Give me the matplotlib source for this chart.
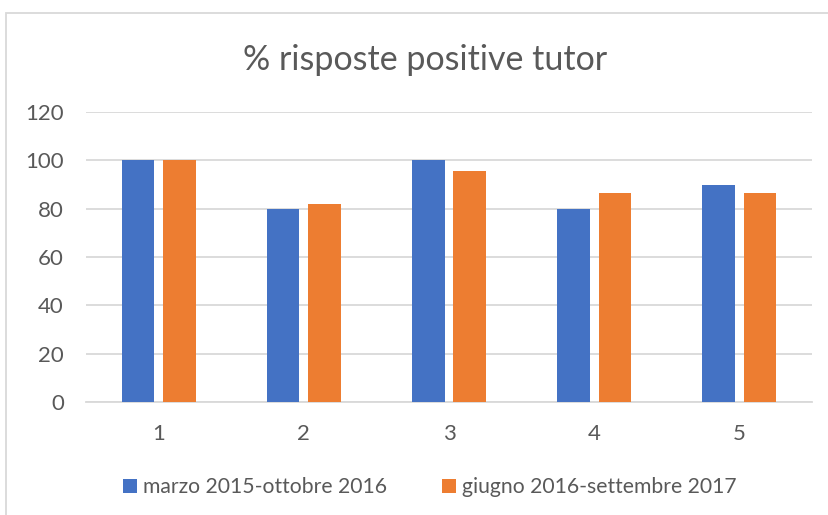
import numpy as np
import matplotlib
matplotlib.use("Agg")
import matplotlib.pyplot as plt
from matplotlib.patches import Rectangle

# data
categories = ["1", "2", "3", "4", "5"]
marzo_2015 = [100, 80, 100, 80, 90]
giugno_2016 = [100, 81.8, 95.5, 86.4, 86.4]
series_names = ["marzo 2015-ottobre 2016", "giugno 2016-settembre 2017"]
yticks = [0, 20, 40, 60, 80, 100, 120]

blue = "#4472C4"
orange = "#ED7D31"
grid_col = "#D9D9D9"
text_col = "#595959"

plt.rcParams['font.family'] = ['Lato', 'DejaVu Sans']

fig = plt.figure(figsize=(8.29, 5.15), dpi=100)
ax = fig.add_axes([86 / 829, 1 - 402 / 515, (812 - 86) / 829, (402 - 112) / 515])

x = np.arange(len(categories))
w = 0.225
off = 0.143
ax.bar(x - off, marzo_2015, w, color=blue, label=series_names[0], zorder=3)
ax.bar(x + off, giugno_2016, w, color=orange, label=series_names[1], zorder=3)

ax.set_xlim(-0.5, len(categories) - 0.5)
ax.set_ylim(0, 120)
ax.set_yticks(yticks)
ax.set_xticks(x)
ax.set_xticklabels(categories)
ax.yaxis.grid(True, color=grid_col, linewidth=1.3, zorder=0)
ax.set_axisbelow(True)
for s in ["top", "right", "left"]:
    ax.spines[s].set_visible(False)
ax.spines["bottom"].set_color(grid_col)
ax.spines["bottom"].set_linewidth(1.3)
ax.tick_params(axis="both", length=0, colors=text_col, labelsize=16)
ax.tick_params(axis="y", pad=16)
ax.tick_params(axis="x", pad=16)

fig.text(425 / 829, 1 - 60 / 515, "% risposte positive tutor", ha="center", va="center",
         fontsize=24.5, color=text_col)

fig.legend(loc="center", bbox_to_anchor=(430 / 829, 1 - 487 / 515), ncol=2, frameon=False,
           fontsize=15.2, labelcolor=text_col, handlelength=0.65, handleheight=0.65,
           handletextpad=0.3, columnspacing=2.6)

# outer chart border (only top and left visible in the crop)
fig.patches.append(Rectangle((6 / 829, -0.1), 1.2, 1 - 13 / 515 + 0.1, transform=fig.transFigure,
                             fill=False, edgecolor=grid_col, linewidth=1.3))

fig.savefig("out.png", dpi=100, facecolor="white")
